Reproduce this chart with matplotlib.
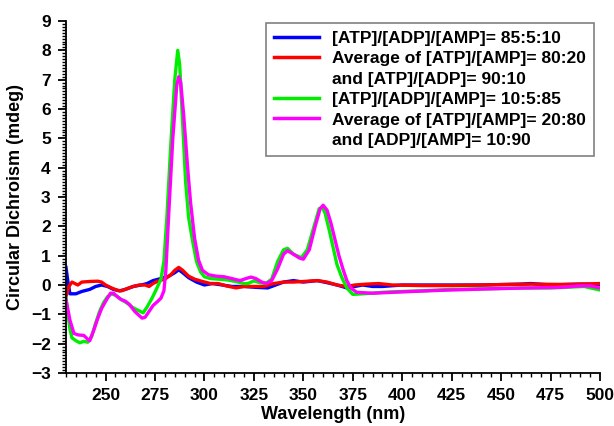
import numpy as np
import matplotlib
matplotlib.use('Agg')
import matplotlib.pyplot as plt
from matplotlib.lines import Line2D
from matplotlib.ticker import MultipleLocator

# values (wavelength in nm, CD in mdeg)
wl_blue = [230, 231, 232, 235, 238, 242, 245, 248, 251, 254, 257, 260, 264, 268, 271, 274, 278, 282,
           285, 287, 289, 292, 296, 300, 304, 309, 314, 320, 326, 332, 336, 340, 345, 350, 357, 362,
           367, 372, 376, 380, 385, 390, 400, 420, 440, 460, 465, 475, 490, 500]
cd_blue = [0.6, 0.1, -0.3, -0.3, -0.22, -0.15, -0.05, 0.0, -0.05, -0.15, -0.2, -0.15, -0.05, 0.0, 0.05,
           0.15, 0.22, 0.3, 0.42, 0.52, 0.42, 0.25, 0.1, 0.0, 0.05, 0.0, -0.05, -0.05, -0.08, -0.1, 0.0,
           0.1, 0.15, 0.1, 0.15, 0.08, 0.0, -0.1, -0.05, 0.0, -0.05, -0.05, 0.0, 0.0, 0.0, 0.03, 0.05,
           0.0, 0.03, 0.02]

wl_red = [230, 231.5, 233, 236, 238, 242, 246, 248, 250, 253, 256, 258, 261, 264, 267, 270, 272, 274,
          277, 280, 283, 285, 287, 289, 292, 295, 299, 303, 307, 311, 316, 320, 325, 330, 335, 340,
          345, 350, 357, 362, 367, 372, 376, 382, 388, 395, 410, 425, 440, 455, 465, 480, 490, 500]
cd_red = [-0.4, -0.05, 0.1, 0.0, 0.1, 0.12, 0.13, 0.1, 0.0, -0.1, -0.18, -0.2, -0.12, -0.05, 0.0, 0.0,
          -0.05, 0.05, 0.15, 0.2, 0.35, 0.5, 0.6, 0.5, 0.3, 0.2, 0.12, 0.05, 0.05, -0.03, -0.1, -0.05,
          -0.05, -0.05, 0.05, 0.1, 0.1, 0.12, 0.15, 0.1, 0.0, -0.05, 0.0, 0.03, 0.05, 0.0, -0.02, -0.02,
          0.0, 0.02, 0.03, 0.02, 0.03, 0.05]

wl_green = [230, 231, 232, 233, 235, 237, 239, 241, 243, 245, 247, 249, 251, 253, 255, 258, 261, 264,
            267, 269, 271, 273.5, 276, 278, 279.5, 281, 283, 285, 286.5, 287.5, 289, 290.5, 292, 294,
            296, 298, 300, 303, 307, 312, 317, 320, 322, 325, 328, 331, 334, 337, 340, 342, 345, 349,
            352, 355, 358, 359.5, 361, 363, 365, 367, 369.5, 372, 375, 380, 385, 390, 400, 410, 425,
            440, 450, 460, 475, 485, 492, 500]
cd_green = [-0.45, -1.0, -1.5, -1.8, -1.9, -1.97, -1.92, -1.95, -1.75, -1.3, -0.9, -0.6, -0.4, -0.3,
            -0.35, -0.5, -0.62, -0.78, -0.88, -0.95, -0.75, -0.45, -0.1, 0.2, 0.8, 2.3, 4.8, 7.0, 8.0,
            7.5, 5.5, 3.5, 2.3, 1.5, 0.8, 0.45, 0.28, 0.22, 0.2, 0.17, 0.1, 0.05, 0.05, 0.14, 0.08,
            0.05, 0.2, 0.8, 1.2, 1.25, 1.05, 0.93, 1.2, 1.9, 2.6, 2.65, 2.45, 1.9, 1.3, 0.7, 0.25,
            -0.1, -0.32, -0.3, -0.28, -0.25, -0.22, -0.2, -0.15, -0.13, -0.12, -0.1, -0.1, -0.07,
            -0.05, -0.17]

wl_mag = [230, 232, 234, 236, 239, 241, 242, 244, 246, 248, 250.5, 252.5, 254, 256, 258, 260, 262,
          265, 268.5, 270, 272, 274, 276.5, 278, 279.5, 280.5, 282, 284, 286, 287, 288, 289.5, 291.5,
          293, 295, 297, 299, 302, 306, 310, 315, 318, 321, 323.5, 326, 329, 331.5, 334, 337, 340,
          342, 345, 348, 350, 353, 356, 358.5, 360, 362, 364, 366, 368, 370, 372, 374, 377, 385, 395,
          405, 420, 435, 450, 465, 480, 490, 495, 500]
cd_mag = [-0.5, -1.2, -1.65, -1.7, -1.72, -1.85, -1.9, -1.55, -1.15, -0.8, -0.5, -0.28, -0.28, -0.4,
          -0.5, -0.55, -0.66, -0.92, -1.13, -1.1, -0.9, -0.7, -0.55, -0.45, -0.2, 0.5, 2.5, 5.0, 6.8,
          7.1, 6.9, 5.8, 4.0, 2.8, 1.6, 0.85, 0.5, 0.35, 0.3, 0.28, 0.2, 0.15, 0.22, 0.27, 0.22, 0.1,
          0.05, 0.15, 0.55, 1.05, 1.17, 1.05, 0.92, 0.88, 1.2, 2.0, 2.6, 2.72, 2.55, 2.1, 1.55, 1.0,
          0.55, 0.15, -0.1, -0.25, -0.28, -0.25, -0.22, -0.18, -0.15, -0.12, -0.1, -0.08, -0.03,
          -0.03, -0.1]

labels = ['[ATP]/[ADP]/[AMP]= 85:5:10',
          'Average of [ATP]/[AMP]= 80:20',
          'and [ATP]/[ADP]= 90:10',
          '[ATP]/[ADP]/[AMP]= 10:5:85',
          'Average of [ATP]/[AMP]= 20:80',
          'and [ADP]/[AMP]= 10:90']

plt.rcParams['font.family'] = ['Liberation Sans', 'DejaVu Sans']
plt.rcParams['font.weight'] = 'bold'

fig = plt.figure(figsize=(6.14, 4.26), dpi=100)
ax = fig.add_axes([66 / 614, 53 / 426, 534 / 614, 352 / 426])

lw = 2.4
ax.plot(wl_blue, cd_blue, color='#0000ff', lw=lw)
ax.plot(wl_red, cd_red, color='#ff0000', lw=lw)
ax.plot(wl_green, cd_green, color='#00ee00', lw=lw)
ax.plot(wl_mag, cd_mag, color='#ff00ff', lw=lw)

ax.set_xlim(230, 500)
ax.set_ylim(-3, 9)
ax.xaxis.set_major_locator(MultipleLocator(25))
ax.xaxis.set_minor_locator(MultipleLocator(5))
ax.yaxis.set_major_locator(MultipleLocator(1))
ax.yaxis.set_minor_locator(MultipleLocator(0.1))
ax.set_xticks([250, 275, 300, 325, 350, 375, 400, 425, 450, 475, 500])

for s in ['top', 'right']:
    ax.spines[s].set_visible(False)
for s in ['left', 'bottom']:
    ax.spines[s].set_linewidth(1.3)

ax.tick_params(which='major', direction='out', length=6, width=1.3, labelsize=12.5, pad=5)
ax.tick_params(which='minor', direction='out', length=3, width=1.0)

ax.set_xlabel('Wavelength (nm)', fontsize=13, fontweight='bold', labelpad=2)
ax.set_ylabel('Circular Dichroism (mdeg)', fontsize=13, fontweight='bold', labelpad=5)

# legend: continuation lines get empty handles so the colour sits on the first line
handles = [Line2D([], [], color='#0000ff', lw=2.5),
           Line2D([], [], color='#ff0000', lw=2.5),
           Line2D([], [], color='none'),
           Line2D([], [], color='#00ee00', lw=2.5),
           Line2D([], [], color='#ff00ff', lw=2.5),
           Line2D([], [], color='none')]
leg = ax.legend(handles, labels, loc='upper left', bbox_to_anchor=(0.3745, 0.994),
                borderaxespad=0, fancybox=False, edgecolor='#808080', framealpha=1,
                prop={'size': 12.5, 'weight': 'bold'}, handlelength=2.6, handletextpad=0.75,
                labelspacing=0.3, borderpad=0.45)
leg.get_frame().set_linewidth(1.2)

fig.savefig('out.png', dpi=100)
